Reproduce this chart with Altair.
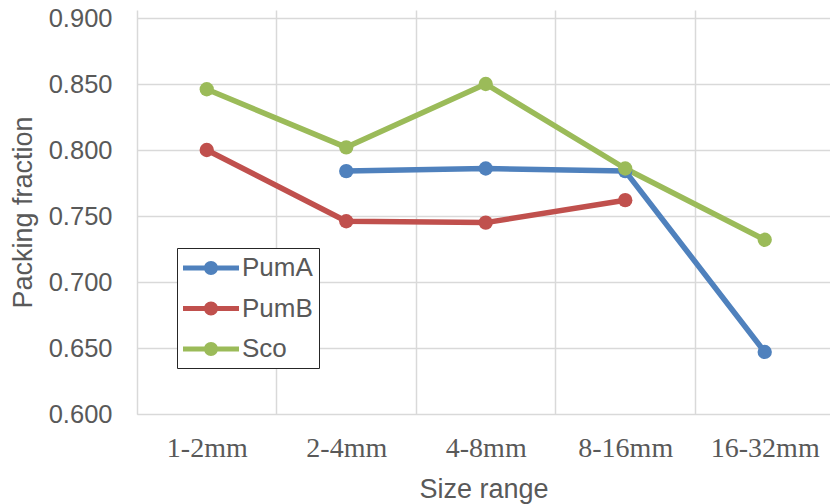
import json
import altair as alt
import pandas as pd

categories = ["1-2mm", "2-4mm", "4-8mm", "8-16mm", "16-32mm"]
series_names = ["PumA", "PumB", "Sco"]
pumA = [None, 0.784, 0.786, 0.784, 0.647]
pumB = [0.800, 0.746, 0.745, 0.762, None]
sco = [0.846, 0.802, 0.850, 0.786, 0.732]
colors = ["#4f81bd", "#c0504d", "#9bbb59"]
y_ticks = [0.600, 0.650, 0.700, 0.750, 0.800, 0.850, 0.900]

rows = []
for name, vals in zip(series_names, [pumA, pumB, sco]):
    for i, v in enumerate(vals):
        if v is not None:
            rows.append({"series": name, "idx": i, "size": categories[i], "value": v})
df = pd.DataFrame(rows)

label_expr = json.dumps(categories) + "[datum.value]"
xscale = alt.Scale(domain=[-0.5, 4.468], nice=False, zero=False)
yscale = alt.Scale(domain=[0.6, 0.9], nice=False, zero=False)
cscale = alt.Scale(domain=series_names, range=colors)

grid_color = "#d9d9d9"
text_color = "#595959"

yaxis = alt.Axis(
    values=y_ticks, format=".3f", grid=True, gridColor=grid_color, gridWidth=1.5,
    ticks=False, domain=False, labelFont="Liberation Sans", labelFontSize=25.5,
    labelColor=text_color, labelPadding=25, title="Packing fraction",
    titleFont="Liberation Sans", titleFontSize=27, titleFontWeight="normal",
    titleColor=text_color, titleX=-106, titleY=194, titleBaseline="alphabetic",
    titleAlign="center", titleAngle=270,
)

xaxis_labels = alt.Axis(
    values=[0, 1, 2, 3, 4], labelExpr=label_expr, grid=False, ticks=False,
    domain=False, labelFont="Liberation Serif", labelFontSize=28,
    labelColor=text_color, labelBaseline="alphabetic", labelPadding=42,
    title="Size range", titleFont="Liberation Sans", titleFontSize=27,
    titleFontWeight="normal", titleColor=text_color, titleBaseline="alphabetic",
    titleY=83,
)

xaxis_grid = alt.Axis(
    values=[-0.5, 0.5, 1.5, 2.5, 3.5], grid=True, gridColor=grid_color,
    gridWidth=1.5, ticks=True, tickSize=8, tickColor=grid_color, tickWidth=1.5,
    labels=False, domain=False, title=None,
)

legend_path = (
    "M-1,-0.18L3,-0.18L3,0.18L-1,0.18Z "
    "M0.5,0A0.5,0.5 0 1,1 1.5,0A0.5,0.5 0 1,1 0.5,0Z"
)

lines = alt.Chart(df).mark_line(strokeWidth=5.5, strokeCap="round", strokeJoin="round").encode(
    x=alt.X("idx:Q", scale=xscale, axis=xaxis_labels),
    y=alt.Y("value:Q", scale=yscale, axis=yaxis),
    color=alt.Color("series:N", scale=cscale, legend=None),
    detail="series:N",
    order="idx:Q",
)

points = alt.Chart(df).mark_circle(size=205, opacity=1).encode(
    x=alt.X("idx:Q", scale=xscale, axis=xaxis_grid),
    y=alt.Y("value:Q", scale=yscale),
    color=alt.Color(
        "series:N", scale=cscale,
        legend=alt.Legend(
            title=None, orient="none", legendX=40, legendY=230,
            symbolType=legend_path, symbolSize=784, symbolStrokeWidth=0,
            symbolOpacity=1, labelFont="Liberation Sans", labelFontSize=26,
            labelColor=text_color, labelOffset=31, rowPadding=13.5,
            padding=6, strokeColor="#262626", fillColor="white",
        ),
    ),
)

chart = (
    alt.layer(lines, points)
    .resolve_axis(x="independent")
    .resolve_legend(color="independent")
    .properties(
        width=693, height=396,
        padding={"left": 137, "top": 18, "right": 0, "bottom": 90},
        autosize=alt.AutoSizeParams(type="none"),
    )
    .configure_view(stroke=None)
    .configure(font="Liberation Sans", background="white")
)

chart.save("out.html", embed_options={"renderer": "svg", "actions": False})
